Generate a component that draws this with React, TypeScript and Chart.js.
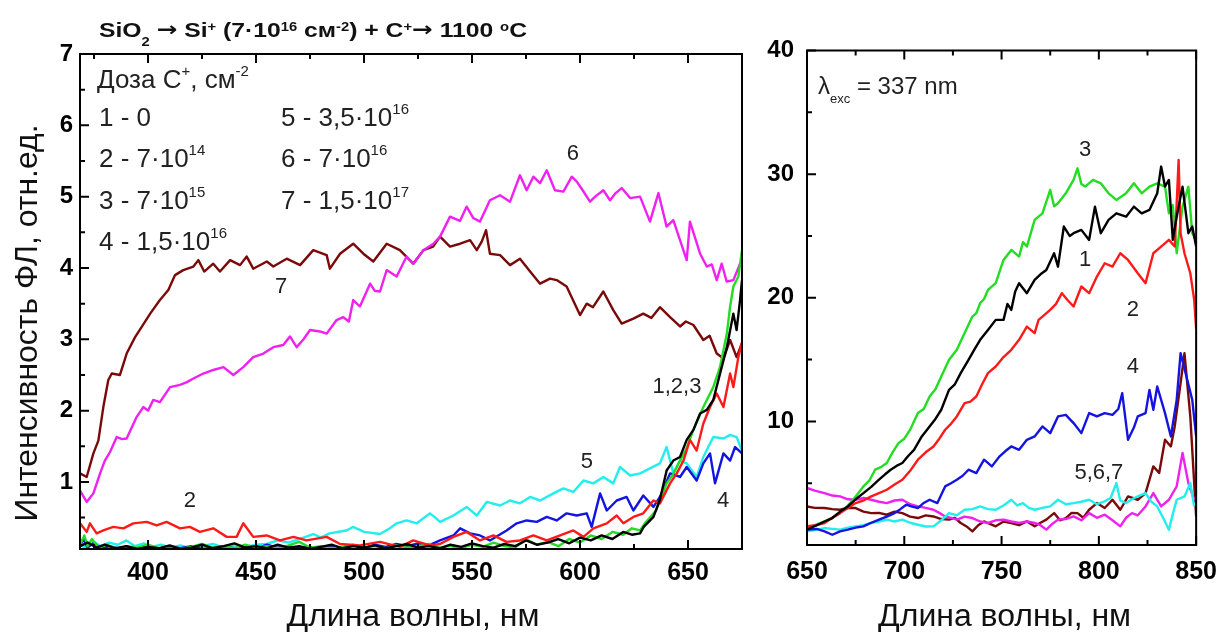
import React, { useEffect, useRef } from 'react';
import { Chart, registerables } from 'chart.js';

Chart.register(...registerables);

type Pt = [number, number];
type Seg = [string, number];

const FONT = "Arial, 'Liberation Sans', sans-serif";
const ARROW_FONT = "'DejaVu Sans', sans-serif";

// ---------- axis ticks ----------
const leftXTicks = [400, 450, 500, 550, 600, 650];
const leftXMinor = [375, 425, 475, 525, 575, 625];
const leftYTicks = [1, 2, 3, 4, 5, 6, 7];
const leftYMinor = [0.5, 1.5, 2.5, 3.5, 4.5, 5.5, 6.5];
const rightXTicks = [650, 700, 750, 800, 850];
const rightXMinor = [675, 725, 775, 825];
const rightYTicks = [10, 20, 30, 40];
const rightYMinor = [5, 15, 25, 35];

const seriesColors = ['#000000', '#FF1A1A', '#22DD22', '#1414E0', '#22EEEE', '#F020F0', '#7A0A0A'];

// ---------- left panel (368–675 nm) ----------
const left1: Pt[] = [[368.5,0.1],[372,0.15],[376,0.08],[380,0.12],[385,0.07],[390,0.1],[395,0.06],[400,0.09],[405,0.07],[410,0.11],[415,0.06],[420,0.08],[425,0.12],[430,0.07],[435,0.1],[440,0.14],[445,0.08],[450,0.1],[455,0.07],[460,0.12],[465,0.08],[470,0.1],[475,0.06],[480,0.09],[485,0.12],[490,0.07],[495,0.1],[500,0.08],[505,0.11],[510,0.07],[515,0.1],[520,0.13],[525,0.08],[530,0.1],[535,0.07],[540,0.12],[545,0.09],[550,0.14],[555,0.1],[560,0.08],[565,0.13],[570,0.1],[575,0.18],[580,0.12],[585,0.15],[590,0.2],[595,0.14],[600,0.22],[605,0.18],[610,0.25],[615,0.2],[620,0.3],[624,0.26],[627.8,0.28],[629.5,0.37],[634,0.51],[637,0.75],[640.1,1.16],[643.2,1.3],[646.3,1.35],[649.4,1.59],[652.5,1.73],[655.6,1.96],[658.7,2.01],[661.7,2.15],[665.6,2.61],[668,2.89],[671,3.36],[672.5,3.13],[674.1,3.55],[675,3.83]];

const left2: Pt[] = [[368.5,0.42],[371.6,0.3],[373.1,0.42],[376.2,0.28],[379.3,0.32],[383.9,0.37],[388.6,0.35],[393.2,0.42],[399.4,0.44],[404,0.39],[408.6,0.44],[414.8,0.35],[419.4,0.37],[424,0.3],[430.2,0.35],[436.4,0.23],[441,0.23],[444.1,0.42],[448.7,0.23],[454.9,0.25],[461.1,0.18],[467.3,0.23],[473.4,0.18],[482.7,0.23],[488.9,0.13],[498.1,0.11],[507.4,0.16],[516.6,0.09],[522.8,0.18],[530.5,0.11],[535.2,0.13],[541.4,0.23],[547.5,0.3],[553.7,0.18],[559.9,0.25],[566,0.16],[572.2,0.18],[578.4,0.25],[584.6,0.18],[590.8,0.25],[596.9,0.32],[601.6,0.23],[606.2,0.35],[612.4,0.42],[617,0.53],[620.1,0.42],[624.7,0.51],[629.3,0.56],[634,0.74],[637,0.7],[641.7,0.98],[644.8,1.12],[647.9,1.3],[650.9,1.59],[654,1.44],[657.1,1.82],[660.2,2.05],[663.3,2.24],[666.4,2.05],[669.5,2.52],[671,2.33],[673.3,2.75],[675,2.95]];

const left3: Pt[] = [[368.5,0.12],[370.5,0.25],[372,0.1],[374,0.2],[377,0.08],[381,0.12],[386,0.06],[390,0.1],[395,0.08],[400,0.12],[405,0.07],[410,0.1],[415,0.06],[420,0.09],[425,0.13],[430,0.08],[435,0.1],[440,0.07],[445,0.12],[450,0.08],[455,0.1],[460,0.07],[465,0.11],[470,0.16],[475,0.08],[480,0.1],[485,0.07],[490,0.09],[495,0.12],[500,0.08],[505,0.1],[510,0.07],[515,0.11],[520,0.08],[525,0.1],[530,0.13],[535,0.08],[540,0.1],[545,0.07],[550,0.12],[555,0.09],[560,0.15],[565,0.1],[570,0.08],[575,0.2],[580,0.12],[585,0.16],[590,0.1],[595,0.2],[600,0.15],[605,0.25],[610,0.2],[615,0.3],[620,0.26],[624,0.35],[627.8,0.32],[630,0.42],[635.2,0.6],[640.1,0.98],[643,1.1],[646.3,1.3],[649,1.45],[652.5,1.73],[657.1,2.05],[661.7,2.33],[664.8,2.61],[668,3.08],[669.5,3.46],[671,3.74],[673.3,3.88],[675,4.25]];

const left4: Pt[] = [[368.5,0.1],[370,0.2],[372,0.08],[375,0.15],[378,0.06],[382,0.1],[386,0.07],[390,0.09],[395,0.06],[400,0.08],[405,0.06],[410,0.09],[415,0.07],[420,0.1],[425,0.06],[430,0.08],[435,0.1],[440,0.07],[445,0.09],[450,0.06],[455,0.12],[460,0.08],[465,0.1],[470,0.07],[475,0.09],[480,0.06],[485,0.1],[490,0.08],[495,0.11],[500,0.07],[505,0.12],[510,0.09],[515,0.13],[520,0.1],[525,0.14],[530,0.11],[535.2,0.18],[541.4,0.25],[544.5,0.35],[549.1,0.28],[553.7,0.25],[558.3,0.18],[566,0.32],[570.7,0.42],[575.3,0.46],[580,0.44],[584.6,0.51],[589.2,0.46],[593.8,0.56],[598.5,0.53],[603.1,0.56],[605.4,0.37],[609.3,0.84],[612.4,0.6],[617,0.74],[621.6,0.79],[624.7,0.6],[629.3,0.81],[634,0.65],[637,0.79],[641.7,1.12],[646.3,1.07],[649.4,1.21],[654,1.02],[657.1,1.26],[660.2,1.4],[662.5,0.98],[666.4,1.4],[669.5,1.3],[671.8,1.49],[675,1.4]];

const left5: Pt[] = [[368.5,0.12],[371,0.08],[374,0.18],[378,0.1],[382,0.15],[386,0.12],[390,0.18],[394,0.1],[398,0.14],[402,0.09],[406,0.12],[410,0.08],[415,0.11],[420,0.07],[425,0.1],[430,0.13],[435,0.08],[440,0.11],[445,0.09],[450,0.12],[455,0.13],[460,0.18],[465,0.15],[470,0.2],[476.5,0.27],[480,0.22],[484,0.28],[491.8,0.32],[495,0.37],[500,0.3],[507.4,0.27],[512,0.35],[515.1,0.42],[519.7,0.46],[524.4,0.42],[530.5,0.56],[533,0.5],[535.2,0.44],[541.4,0.53],[547.5,0.65],[552.2,0.53],[556.8,0.72],[563,0.67],[567.6,0.74],[572.2,0.7],[576.9,0.79],[581.5,0.74],[587.7,0.84],[592.3,0.91],[596.9,0.86],[601.6,1.02],[606.2,0.98],[610.8,1.07],[615.4,0.98],[618.5,1.21],[623.2,1.09],[627.8,1.12],[632.4,1.19],[637,1.26],[640.1,1.49],[643.2,1.12],[646.3,1.3],[649.4,1.26],[654,1.07],[657.1,1.35],[661.7,1.63],[666.4,1.61],[669.5,1.66],[672.5,1.63],[675,1.44]];

const left6: Pt[] = [[368.5,0.88],[371.6,0.72],[374.7,0.84],[377.8,1.12],[380,1.3],[382.4,1.42],[385.5,1.63],[388,1.6],[390.1,1.61],[394.7,1.91],[397.8,2.05],[400,2.0],[402.4,2.15],[405.5,2.12],[410.2,2.33],[414.8,2.36],[418,2.4],[421,2.45],[425.6,2.52],[430.2,2.57],[434.9,2.61],[439.5,2.5],[444.1,2.61],[448.7,2.75],[453.4,2.8],[458,2.89],[462.6,2.92],[465.7,3.04],[468.8,2.89],[472,3.0],[475,3.13],[479.6,3.11],[482.7,3.08],[487.3,3.27],[490.4,3.31],[493,3.25],[495,3.55],[498.1,3.46],[502.8,3.78],[505,3.68],[507.4,3.67],[510.5,3.97],[515.1,3.88],[519.7,4.16],[522.8,4.06],[527.5,4.25],[532.1,4.34],[535.2,4.44],[539.8,4.72],[544.4,4.66],[547.5,4.86],[550.6,4.7],[553.7,4.65],[558.3,4.95],[563,5.02],[567.6,4.93],[572.2,5.3],[575.3,5.09],[578.4,5.28],[581.5,5.19],[584.6,5.37],[588.4,5.09],[592.3,5.07],[596.2,5.28],[598.5,5.21],[601,5.1],[604.6,4.93],[607,5.0],[610.8,5.09],[613.9,4.95],[616.5,5.05],[619.3,5.12],[623.2,4.98],[627.8,5.0],[632.4,4.65],[636.3,5.05],[640.1,4.58],[643.2,4.67],[646.3,4.39],[649.4,4.11],[650.9,4.65],[655.6,4.2],[658.7,4.02],[661,4.05],[663.3,3.83],[665.6,4.06],[667.9,3.81],[671,3.83],[674.1,4.06]];

const left7: Pt[] = [[368.5,1.12],[371.6,1.07],[374.7,1.4],[377,1.58],[379.3,2.05],[381.6,2.43],[383.2,2.52],[387,2.5],[390.1,2.8],[394,3.03],[397,3.17],[401,3.36],[405.5,3.55],[409.4,3.69],[412.5,3.9],[416.3,3.97],[421,4.02],[423.3,4.11],[426,3.95],[430.2,4.06],[433.3,3.95],[438,4.11],[442.6,4.04],[445.7,4.16],[448.7,3.99],[455,4.09],[458,4.02],[464.2,4.13],[470.4,4.04],[476.5,4.25],[482.7,4.18],[484.2,3.99],[488.9,4.2],[495,4.34],[499.7,4.2],[504.3,4.09],[510.5,4.34],[516.6,4.25],[522.8,4.06],[527.5,4.25],[532,4.3],[535.2,4.44],[539.8,4.3],[544.5,4.34],[549.1,4.39],[552.2,4.25],[554.5,4.37],[556.5,4.53],[558.3,4.2],[563,4.18],[567.6,4.04],[572.2,4.13],[576.9,3.95],[581.5,3.78],[586.1,3.85],[589.2,3.83],[593.8,3.74],[600,3.34],[603.1,3.5],[606,3.45],[610.8,3.67],[615.4,3.41],[619.3,3.22],[624.7,3.29],[629.3,3.36],[633,3.3],[637,3.45],[641.7,3.31],[646.3,3.18],[649,3.25],[652.5,3.2],[657.1,2.99],[660,3.05],[663.3,2.8],[666.4,2.73],[669.5,2.99],[672.5,2.75],[675,2.95]];

// ---------- right panel (650–850 nm) ----------
const right1: Pt[] = [[650,1.24],[655,1.6],[659,1.9],[663,2.18],[667,2.7],[671,3.12],[675,3.7],[679,4.2],[683,4.7],[687,5.28],[690,5.7],[693,6.09],[696,6.4],[699,6.63],[702,7.2],[705,7.7],[709,8.78],[713,9.59],[716,10.2],[719,10.94],[723,12.55],[726,13.0],[729,13.9],[733,14.98],[736,15.8],[739,16.6],[743,17.4],[747,18.21],[751,18.21],[753,19.5],[755,19.02],[757,20.5],[759,21.18],[763,20.37],[767,21.45],[770,21.9],[773,22.25],[777,23.6],[779,22.52],[782,25.76],[785,25.0],[787,25.22],[791,25.49],[795,24.68],[798,27.37],[801,25.22],[805,26.3],[809,26.83],[814,26.56],[818,27.37],[822,26.83],[826,27.1],[830,28.45],[832,30.61],[834,29.0],[836,29.53],[838,24.68],[840,26.56],[843,28.99],[846,25.22],[848,25.76],[850,24.14]];

const right2: Pt[] = [[650,1.51],[655,1.6],[659,1.78],[663,2.2],[667,2.58],[671,3.0],[675,3.39],[679,3.6],[683,3.93],[687,4.2],[691,4.47],[695,4.9],[699,5.28],[703,6.0],[707,6.9],[711,7.5],[715,7.97],[718,8.6],[721,9.32],[724,9.8],[727,10.4],[731,11.48],[734,11.6],[737,12.01],[740,13.0],[743,13.9],[747,14.44],[751,15.2],[755,15.79],[759,16.6],[763,17.67],[767,17.14],[769,18.21],[771,18.48],[775,19.02],[778,19.5],[781,20.37],[784,19.8],[787,19.29],[791,20.91],[795,20.37],[799,21.71],[803,22.79],[807,22.52],[811,23.6],[815,23.06],[820,21.98],[824,21.18],[828,23.6],[832,24.14],[836,24.68],[839,24.14],[841,31.15],[842,25.22],[844,23.6],[847,21.98],[849,19.83],[850,17.5]];

const right3: Pt[] = [[650,1.37],[654,1.6],[659,1.91],[663,2.2],[667,2.58],[671,3.2],[675,3.93],[679,4.74],[682,5.2],[685,6.09],[688,6.3],[691,6.63],[694,7.5],[697,8.24],[700,8.6],[703,9.32],[707,10.67],[710,11.0],[713,12.01],[716,12.6],[719,13.63],[723,14.98],[727,15.79],[731,17.14],[735,18.48],[737,18.75],[739,19.56],[741,19.9],[743,20.63],[747,21.18],[751,23.06],[755,23.87],[759,23.33],[761,24.5],[763,24.14],[767,26.3],[771,26.83],[775,28.72],[777,27.4],[779,27.64],[783,28.45],[787,29.53],[789,30.47],[791,29.2],[793,28.99],[797,29.53],[801,29.26],[805,28.45],[809,27.91],[814,28.45],[818,29.26],[822,28.45],[826,28.99],[830,29.26],[834,28.99],[836,26.83],[838,27.5],[840,23.6],[843,27.37],[846,28.99],[848,25.22],[850,24.68]];

const right4: Pt[] = [[650,1.24],[655,1.3],[659,1.1],[663,0.83],[667,1.1],[671,1.24],[675,1.4],[679,1.51],[683,1.8],[687,2.05],[691,2.3],[695,2.58],[698,2.9],[701,3.26],[704,3.1],[707,2.99],[710,3.4],[713,3.66],[717,3.39],[721,4.74],[724,5.0],[727,5.28],[730,5.6],[733,6.09],[737,5.82],[741,6.9],[745,6.36],[749,7.17],[752,7.6],[755,7.97],[759,7.7],[763,8.51],[767,8.78],[771,9.59],[775,9.05],[779,10.4],[783,10.53],[787,9.86],[791,9.05],[795,10.67],[799,10.4],[803,10.67],[807,10.53],[810,11.0],[812,12.28],[815,8.51],[818,9.5],[820,10.4],[824,10.67],[826,12.55],[828,10.94],[830,12.82],[834,10.67],[837,8.78],[840,11.74],[842,15.52],[845,13.63],[848,11.74],[850,8.78]];

const right5: Pt[] = [[650,1.1],[654,1.2],[659,1.37],[663,1.3],[667,1.24],[671,1.4],[675,1.51],[679,1.6],[683,1.78],[687,1.9],[691,2.05],[695,1.9],[699,2.05],[703,1.8],[707,1.64],[711,1.5],[715,1.51],[719,2.0],[723,2.58],[727,2.4],[731,2.85],[735,2.9],[739,3.12],[743,2.9],[747,2.85],[751,3.2],[755,3.66],[758,3.2],[761,3.39],[764,3.0],[767,2.85],[771,3.0],[775,3.12],[779,3.66],[783,3.3],[787,3.39],[791,3.5],[795,3.66],[799,3.3],[803,3.53],[806,3.8],[809,5.01],[811,3.6],[814,3.39],[817,3.7],[820,3.93],[824,4.2],[827,3.5],[830,3.12],[833,2.2],[836,1.24],[838,2.5],[840,3.66],[844,3.93],[847,5.01],[849,3.12]];

const right6: Pt[] = [[650,4.61],[654,4.4],[659,4.2],[663,4.0],[667,3.93],[671,3.7],[675,3.66],[679,3.8],[683,3.66],[687,3.5],[691,3.39],[695,3.6],[699,3.66],[703,3.3],[707,3.12],[711,3.0],[715,2.85],[718,2.6],[721,2.31],[724,2.2],[727,2.05],[731,2.3],[735,2.18],[739,1.9],[743,1.78],[747,2.0],[751,2.05],[755,1.9],[759,1.78],[763,1.9],[767,1.78],[770,1.6],[773,1.24],[776,1.7],[779,2.05],[783,2.1],[787,2.31],[791,2.0],[795,2.58],[799,2.2],[803,2.45],[807,2.0],[811,1.51],[814,2.2],[817,2.58],[820,2.4],[824,3.12],[828,4.2],[832,3.12],[836,3.66],[840,4.74],[843,7.44],[846,5.01],[849,3.66]];

const right7: Pt[] = [[650,3.12],[654,3.0],[659,2.99],[663,2.9],[667,2.85],[671,3.0],[675,2.99],[679,2.7],[683,2.58],[687,2.6],[691,2.45],[695,2.7],[699,2.58],[703,2.3],[707,2.18],[711,2.4],[715,2.31],[719,2.1],[723,2.05],[726,2.2],[729,1.78],[732,1.5],[735,1.1],[738,1.6],[741,1.91],[744,1.7],[747,1.51],[751,1.9],[755,1.78],[759,1.6],[763,1.91],[767,1.51],[770,1.8],[773,2.05],[777,2.58],[780,2.0],[783,2.18],[786,2.6],[789,2.58],[792,2.2],[795,2.85],[799,3.39],[803,2.99],[807,3.66],[811,2.85],[815,3.93],[820,3.66],[824,4.2],[828,6.36],[831,5.82],[834,8.51],[837,7.97],[839,9.59],[842,13.09],[844,15.52],[847,10.4],[850,2.31]];

const leftSeries = [left1, left2, left3, left4, left5, left6, left7];
const rightSeries = [right1, right2, right3, right4, right5, right6, right7];

// ---------- texts ----------
const leftCurveLabels: { text: string; x: number; y: number }[] = [
  { text: '6', x: 596.7, y: 5.6 },
  { text: '7', x: 461.6, y: 3.73 },
  { text: '2', x: 419.4, y: 0.73 },
  { text: '5', x: 603.2, y: 1.28 },
  { text: '1,2,3', x: 644.9, y: 2.33 },
  { text: '4', x: 666.2, y: 0.73 },
];
const rightCurveLabels: { text: string; x: number; y: number }[] = [
  { text: '3', x: 793, y: 31.96 },
  { text: '1', x: 793, y: 23.06 },
  { text: '2', x: 817.5, y: 19.02 },
  { text: '4', x: 817.5, y: 14.41 },
  { text: '5,6,7', x: 800, y: 5.85 },
];

// segment modes: 0 normal, 1 superscript, -1 subscript, 2 arrow glyph
const topTitle: Seg[] = [['SiO', 0], ['2', -1], [' ', 0], ['\u2192', 2], [' Si', 0], ['+', 1], [' (7\u00B710', 0], ['16', 1], [' см', 0], ['-2', 1], [') + C', 0], ['+', 1], ['\u2192', 2], [' 1100 ', 0], ['o', 1], ['C', 0]];
const doseHeader: Seg[] = [['Доза C', 0], ['+', 1], [', см', 0], ['-2', 1]];
const doseCol1: Seg[][] = [
  [['1 - 0', 0]],
  [['2 - 7\u00B710', 0], ['14', 1]],
  [['3 - 7\u00B710', 0], ['15', 1]],
  [['4 - 1,5\u00B710', 0], ['16', 1]],
];
const doseCol2: Seg[][] = [
  [['5 - 3,5\u00B710', 0], ['16', 1]],
  [['6 - 7\u00B710', 0], ['16', 1]],
  [['7 - 1,5\u00B710', 0], ['17', 1]],
];
const excText: Seg[] = [['\u03BB', 0], ['exc', -1], [' = 337 nm', 0]];
const xTitle = 'Длина волны, нм';
const yTitle = 'Интенсивность ФЛ, отн.ед.';

// ---------- drawing helpers ----------
function segFont(m: number, size: number, bold: boolean, supScale: number, subScale: number) {
  const w = bold ? 'bold ' : '';
  if (m === 1) return `${w}${Math.round(size * supScale)}px ${FONT}`;
  if (m === -1) return `${w}${Math.round(size * subScale)}px ${FONT}`;
  if (m === 2) return `${w}${size}px ${ARROW_FONT}`;
  return `${w}${size}px ${FONT}`;
}

function drawRich(
  ctx: CanvasRenderingContext2D, x: number, y: number, segs: Seg[], size: number, bold: boolean,
  supScale: number, supRaise: number, subScale: number, subDrop: number, color: string, targetW?: number
) {
  ctx.save();
  ctx.fillStyle = color;
  ctx.textAlign = 'left';
  ctx.textBaseline = 'alphabetic';
  let total = 0;
  for (const [t, m] of segs) {
    ctx.font = segFont(m, size, bold, supScale, subScale);
    total += ctx.measureText(t).width;
  }
  ctx.translate(x, y);
  if (targetW) ctx.scale(targetW / total, 1);
  let cx = 0;
  for (const [t, m] of segs) {
    ctx.font = segFont(m, size, bold, supScale, subScale);
    const dy = m === 1 ? -supRaise : m === -1 ? subDrop : m === 2 ? -1 : 0;
    ctx.fillText(t, cx, dy);
    cx += ctx.measureText(t).width;
  }
  ctx.restore();
}

function drawFit(ctx: CanvasRenderingContext2D, text: string, cx: number, cy: number, size: number, target: number, rotate: boolean) {
  ctx.save();
  ctx.font = `${size}px ${FONT}`;
  ctx.fillStyle = '#111';
  ctx.textAlign = 'center';
  ctx.textBaseline = 'alphabetic';
  const w = ctx.measureText(text).width;
  ctx.translate(cx, cy);
  if (rotate) ctx.rotate(-Math.PI / 2);
  ctx.scale(target / w, 1);
  ctx.fillText(text, 0, 0);
  ctx.restore();
}

function framePlugin(id: string, xMajor: number[], xMinor: number[], yMajor: number[], yMinor: number[],
  extras: (ctx: CanvasRenderingContext2D, chart: any) => void) {
  return {
    id,
    afterDraw(chart: any) {
      const ctx: CanvasRenderingContext2D = chart.ctx;
      const a = chart.chartArea;
      const xs = chart.scales.x;
      const ys = chart.scales.y;
      ctx.save();
      ctx.strokeStyle = '#000';
      ctx.lineWidth = 2;
      ctx.strokeRect(a.left, a.top, a.right - a.left, a.bottom - a.top);
      ctx.beginPath();
      const xt = (v: number, len: number) => {
        const p = xs.getPixelForValue(v);
        ctx.moveTo(p, a.bottom); ctx.lineTo(p, a.bottom - len);
        ctx.moveTo(p, a.top); ctx.lineTo(p, a.top + len);
      };
      const yt = (v: number, len: number) => {
        const p = ys.getPixelForValue(v);
        ctx.moveTo(a.left, p); ctx.lineTo(a.left + len, p);
      };
      xMajor.forEach((v) => xt(v, 9));
      xMinor.forEach((v) => xt(v, 5));
      yMajor.forEach((v) => yt(v, 9));
      yMinor.forEach((v) => yt(v, 5));
      ctx.stroke();
      ctx.restore();
      ctx.save();
      extras(ctx, chart);
      ctx.restore();
    },
  };
}

function curveLabels(ctx: CanvasRenderingContext2D, chart: any, labels: { text: string; x: number; y: number }[]) {
  ctx.font = `22px ${FONT}`;
  ctx.fillStyle = '#222';
  ctx.textAlign = 'center';
  ctx.textBaseline = 'middle';
  for (const l of labels) {
    ctx.fillText(l.text, chart.scales.x.getPixelForValue(l.x), chart.scales.y.getPixelForValue(l.y));
  }
}

function makeDatasets(series: Pt[][]) {
  return series.map((s, i) => ({
    label: String(i + 1),
    data: s.map(([x, y]) => ({ x, y })),
    showLine: true,
    borderColor: seriesColors[i],
    backgroundColor: seriesColors[i],
    borderWidth: 2.4,
    pointRadius: 0,
    tension: 0,
    fill: false,
    borderJoinStyle: 'round' as const,
  }));
}

function scaleOpts(min: number, max: number, ticks: number[], size: number, pad: number, fit: (s: any) => void) {
  return {
    type: 'linear' as const,
    min,
    max,
    grid: { display: false, drawTicks: false },
    border: { display: false },
    afterBuildTicks: (s: any) => { s.ticks = ticks.map((v) => ({ value: v })); },
    afterFit: fit,
    ticks: { padding: pad, color: '#000', autoSkip: false, maxRotation: 0, font: { family: FONT, size, weight: 'bold' as const } },
  };
}

export default function App() {
  const leftRef = useRef<HTMLCanvasElement | null>(null);
  const rightRef = useRef<HTMLCanvasElement | null>(null);

  useEffect(() => {
    if (!leftRef.current || !rightRef.current) return;

    const leftChart = new Chart(leftRef.current, {
      type: 'scatter',
      data: { datasets: makeDatasets(leftSeries) as any },
      options: {
        animation: false,
        responsive: false,
        maintainAspectRatio: false,
        layout: { padding: { top: 54, right: 28, left: 0, bottom: 0 } },
        plugins: { legend: { display: false }, tooltip: { enabled: false }, title: { display: false } },
        scales: {
          x: scaleOpts(368.5, 675, leftXTicks, 25, 9, (s) => { s.height = 83; }) as any,
          y: scaleOpts(0.06, 7, leftYTicks, 24, 7, (s) => { s.width = 80; }) as any,
        },
      },
      plugins: [framePlugin('leftFrame', leftXTicks, leftXMinor, leftYTicks, leftYMinor, (ctx, chart) => {
        const a = chart.chartArea;
        drawRich(ctx, 99, 37, topTitle, 20, true, 0.62, 6, 0.62, 9, '#111', 428);
        drawRich(ctx, a.left + 17, a.top + 34, doseHeader, 26, false, 0.58, 12, 0.6, 8, '#222');
        doseCol1.forEach((row, i) => drawRich(ctx, a.left + 19, a.top + 72 + i * 41.3, row, 26, false, 0.58, 12, 0.6, 8, '#222'));
        doseCol2.forEach((row, i) => drawRich(ctx, a.left + 201, a.top + 72 + i * 41.3, row, 26, false, 0.58, 12, 0.6, 8, '#222'));
        curveLabels(ctx, chart, leftCurveLabels);
        drawFit(ctx, xTitle, (a.left + a.right) / 2 + 2, 626, 31, 253, false);
        drawFit(ctx, yTitle, 37, 323, 31, 397, true);
      })],
    });

    const rightChart = new Chart(rightRef.current, {
      type: 'scatter',
      data: { datasets: makeDatasets(rightSeries) as any },
      options: {
        animation: false,
        responsive: false,
        maintainAspectRatio: false,
        layout: { padding: { top: 50.5, right: 22, left: 0, bottom: 0 } },
        plugins: { legend: { display: false }, tooltip: { enabled: false }, title: { display: false } },
        scales: {
          x: scaleOpts(650, 850, rightXTicks, 25, 12, (s) => { s.height = 87; }) as any,
          y: scaleOpts(0, 40, rightYTicks, 24, 13, (s) => { s.width = 47; }) as any,
        },
      },
      plugins: [framePlugin('rightFrame', rightXTicks, rightXMinor, rightYTicks, rightYMinor, (ctx, chart) => {
        const a = chart.chartArea;
        drawRich(ctx, a.left + 11, a.top + 43, excText, 24, false, 0.55, 10, 0.55, 9, '#222');
        curveLabels(ctx, chart, rightCurveLabels);
        drawFit(ctx, xTitle, (a.left + a.right) / 2 + 3, 626, 31, 253, false);
      })],
    });

    return () => {
      leftChart.destroy();
      rightChart.destroy();
    };
  }, []);

  return (
    <div style={{ position: 'fixed', left: 0, top: 0, width: 1229, height: 632, background: '#fff', overflow: 'hidden' }}>
      <canvas ref={leftRef} width={770} height={632} style={{ position: 'absolute', left: 0, top: 0, width: 770, height: 632 }} />
      <canvas ref={rightRef} width={469} height={632} style={{ position: 'absolute', left: 760, top: 0, width: 469, height: 632 }} />
    </div>
  );
}
